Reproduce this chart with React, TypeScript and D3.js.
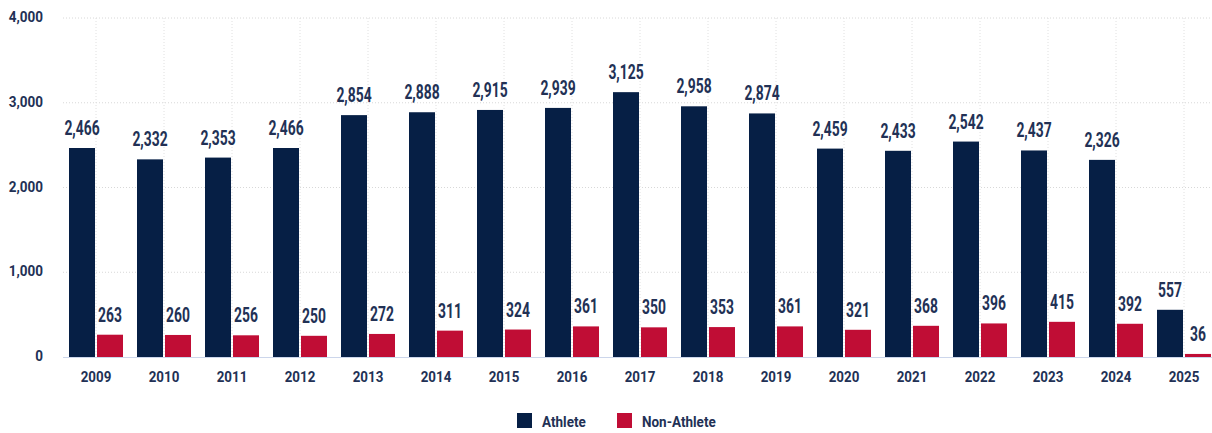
import React from "react";
import * as d3 from "d3";

const years = ["2009","2010","2011","2012","2013","2014","2015","2016","2017","2018","2019","2020","2021","2022","2023","2024","2025"];
const athlete = [2466,2332,2353,2466,2854,2888,2915,2939,3125,2958,2874,2459,2433,2542,2437,2326,557];
const nonAthlete = [263,260,256,250,272,311,324,361,350,353,361,321,368,396,415,392,36];
const yTicks = [0,1000,2000,3000,4000];
const seriesNames = ["Athlete","Non-Athlete"];
const seriesColors = ["#061f45","#c00d35"];

const W = 1212, H = 433;
const FONT = "Roboto, 'Liberation Sans', sans-serif";
const TEXT = "#223155";

function CText(props: { x: number; y: number; sx: number; size: number; anchor: string; children: React.ReactNode }) {
  return (
    <text transform={`translate(${props.x},${props.y}) scale(${props.sx},1)`} textAnchor={props.anchor}
      fontSize={props.size} fontWeight="bold" fill={TEXT}>{props.children}</text>
  );
}

export default function App() {
  const x = d3.scaleBand<string>().domain(years).range([62, 1218]).paddingInner(0).paddingOuter(0);
  const y = d3.scaleLinear().domain([0, 4000]).range([357, 18]);
  const step = x.step();
  const barW = 26;
  const gap = 2;
  const fmt = d3.format(",");
  const series = [athlete, nonAthlete];

  return (
    <svg width={W} height={H} style={{ position: "absolute", left: 0, top: 0, background: "#fff" }} fontFamily={FONT}>
      {yTicks.filter(t => t > 0).map(t => (
        <line key={"g" + t} x1={63} x2={W} y1={y(t)} y2={y(t)} stroke="#d8d8d8" strokeDasharray="1,2" />
      ))}
      {years.map(yr => (
        <line key={"v" + yr} x1={x(yr)! + step / 2} x2={x(yr)! + step / 2} y1={18} y2={357} stroke="#e0e0e0" strokeDasharray="1,2" />
      ))}
      {yTicks.map(t => (
        <CText key={"yt" + t} x={43} y={y(t) + 4} sx={0.87} size={15.5} anchor="end">{fmt(t)}</CText>
      ))}
      {series.map((vals, si) => vals.map((v, i) => {
        const cx = x(years[i])! + step / 2;
        const bx = si === 0 ? cx - gap / 2 - barW : cx + gap / 2;
        return (
          <g key={`b${si}-${i}`}>
            <rect x={bx} y={y(v)} width={barW} height={357 - y(v)} fill={seriesColors[si]} />
            <CText x={bx + barW / 2} y={y(v) - 13} sx={0.66} size={21} anchor="middle">{fmt(v)}</CText>
          </g>
        );
      }))}
      <line x1={63} x2={W} y1={357.5} y2={357.5} stroke="#ccd6eb" strokeWidth={1} />
      {years.map(yr => (
        <CText key={"xl" + yr} x={x(yr)! + step / 2} y={382} sx={0.86} size={15.5} anchor="middle">{yr}</CText>
      ))}
      {seriesNames.map((n, i) => {
        const lx = i === 0 ? 517 : 617;
        return (
          <g key={"lg" + n}>
            <rect x={lx} y={413} width={15} height={15} fill={seriesColors[i]} />
            <CText x={lx + 25} y={427} sx={0.93} size={14.5} anchor="start">{n}</CText>
          </g>
        );
      })}
    </svg>
  );
}
